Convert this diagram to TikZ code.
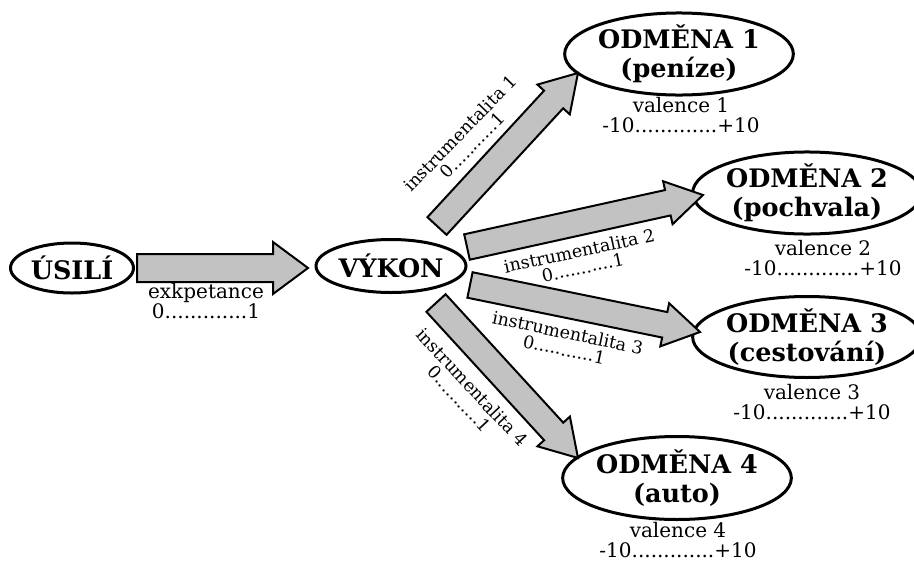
\documentclass[tikz,border=0pt]{standalone}
\usepackage{fontspec}
\setmainfont{DejaVu Serif}
\usetikzlibrary{shapes.geometric,calc}
\tikzset{
  goal/.style={ellipse, draw, line width=3pt, inner sep=0pt, align=center,
    font=\bfseries\fontsize{25.5}{29}\selectfont},
  lbl/.style={align=center, inner sep=0pt, font=\fontsize{20}{20.5}\selectfont},
  ilbl/.style={align=center, inner sep=0pt, font=\fontsize{17.5}{17}\selectfont},
  fatarrow/.style={draw, line width=2pt, fill=black!24, line join=miter},
}
\newcommand\fatarr[5]{%
  \coordinate (hb) at ($(#2)!#5!(#1)$);
  \draw[fatarrow] ($(#1)!#3!90:(#2)$) -- ($(hb)!#3!90:(#2)$) -- ($(hb)!#4!90:(#2)$)
    -- (#2) -- ($(hb)!#4!-90:(#2)$) -- ($(hb)!#3!-90:(#2)$) -- ($(#1)!#3!-90:(#2)$) -- cycle;}
\begin{document}
\begin{tikzpicture}[x=1pt,y=-1pt]
\useasboundingbox (0,0) rectangle (914,563);
% nodes
\node[goal, minimum width=123pt, minimum height=50pt] (usili) at (72,268) {ÚSILÍ};
\node[goal, minimum width=150pt, minimum height=53pt] (vykon) at (391,266) {VÝKON};
\node[goal, minimum width=202pt, minimum height=82pt] (o1) at (679,54) {ODMĚNA 1\\(peníze)};
\node[goal, minimum width=200pt, minimum height=80pt] (o2) at (807,193) {ODMĚNA 2\\(pochvala)};
\node[goal, minimum width=200pt, minimum height=81pt] (o3) at (807,337) {ODMĚNA 3\\(cestování)};
\node[goal, minimum width=201pt, minimum height=83pt] (o4) at (677,478) {ODMĚNA 4\\(auto)};
% arrow end points
\coordinate (a0) at (137,268); \coordinate (b0) at (308,268);
\coordinate (a1) at (437,226); \coordinate (b1) at (578,73);
\coordinate (a2) at (467,247); \coordinate (b2) at (703,195);
\coordinate (a3) at (470,285); \coordinate (b3) at (700,332);
\coordinate (a4) at (436,303); \coordinate (b4) at (578,458);
\fatarr{a0}{b0}{14pt}{26pt}{35pt}
\fatarr{a1}{b1}{13pt}{22pt}{36pt}
\fatarr{a2}{b2}{13pt}{22pt}{36pt}
\fatarr{a3}{b3}{13pt}{22pt}{36pt}
\fatarr{a4}{b4}{13pt}{22pt}{36pt}
% labels
\node[lbl] (le) at (206,301) {exkpetance\\0.............1};
\node[ilbl, rotate=46] (l1) at (466,139) {instrumentalita 1\\0...........1};
\node[ilbl, rotate=12] (l2) at (581,259) {instrumentalita 2\\0...........1};
\node[ilbl, rotate=-12] (l3) at (566,341) {instrumentalita 3\\0...........1};
\node[ilbl, rotate=-47] (l4) at (466,393) {instrumentalita 4\\0...........1};
\node[lbl] (v1) at (681,115) {valence 1\\-10.............+10};
\node[lbl] (v2) at (823,258) {valence 2\\-10.............+10};
\node[lbl] (v3) at (812,402) {valence 3\\-10.............+10};
\node[lbl] (v4) at (678,540) {valence 4\\-10.............+10};
\end{tikzpicture}
\end{document}
